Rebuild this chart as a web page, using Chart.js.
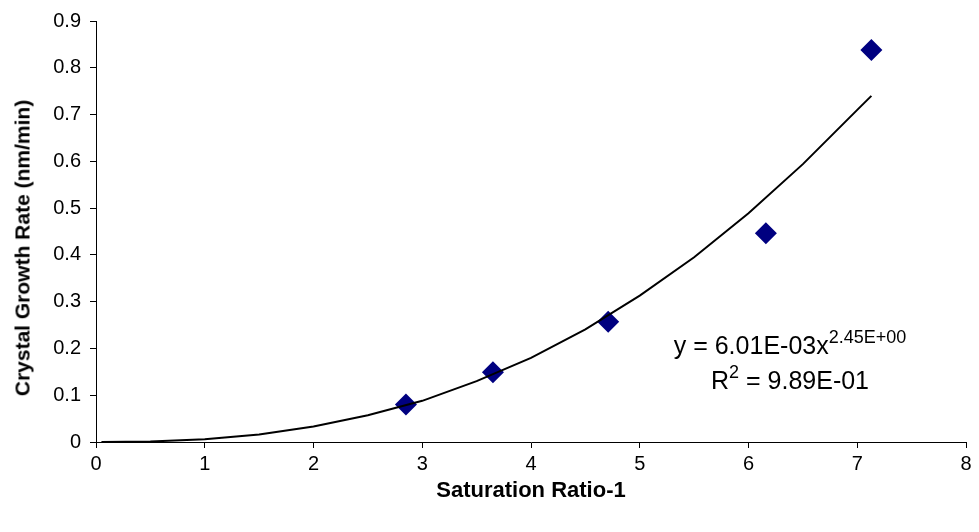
<!DOCTYPE html>
<html>
<head>
<meta charset="utf-8">
<script src="https://cdn.jsdelivr.net/npm/chart.js@4/dist/chart.umd.min.js"></script>
<style>
  html, body { margin: 0; padding: 0; background: #fff; }
  #wrap { position: relative; width: 979px; height: 532px; }
  canvas { position: absolute; left: 0; top: 0; }
  .eq { position: absolute; font-family: "Liberation Sans", Arial, sans-serif; font-size: 25px; color: #000; white-space: nowrap; transform: translateX(-50%); line-height: 1; }
  .eq sup { font-size: 18px; vertical-align: 0; position: relative; top: -11px; }
  #ytitle { position: absolute; font-family: "Liberation Sans", Arial, sans-serif; font-size: 21px; font-weight: bold; color: #000; white-space: nowrap; line-height: 1;
            left: 22px; top: 248px; transform: translate(-50%, -50%) rotate(-90deg); }
</style>
</head>
<body>
<div id="wrap">
  <canvas id="c" width="979" height="532"></canvas>
  <div class="eq" id="eq1" style="left:790px; top:333px;">y = 6.01E-03x<sup>2.45E+00</sup></div>
  <div class="eq" id="eq2" style="left:790px; top:368px;">R<sup>2</sup> = 9.89E-01</div>
  <div id="ytitle"></div>
</div>
<script>
// Measured data points (Saturation Ratio-1, Crystal Growth Rate nm/min)
const pointX = [2.85, 3.65, 4.71, 6.16, 7.13];
const pointY = [0.080, 0.149, 0.257, 0.446, 0.838];

// Power trendline
const trendX = [0.05, 0.5, 1.0, 1.5, 2.0, 2.5, 3.0, 3.5, 4.0, 4.5, 5.0, 5.5, 6.0, 6.5, 7.0, 7.13];
const trendY = [0.000, 0.001, 0.006, 0.016, 0.033, 0.057, 0.088, 0.130, 0.180, 0.241, 0.313, 0.395, 0.489, 0.594, 0.710, 0.740];

// Tick labels
const xTickLabels = ['0', '1', '2', '3', '4', '5', '6', '7', '8'];
const yTickLabels = ['0', '0.1', '0.2', '0.3', '0.4', '0.5', '0.6', '0.7', '0.8', '0.9'];

const xTitle = 'Saturation Ratio-1';
const yTitle = 'Crystal Growth Rate (nm/min)';
document.getElementById('ytitle').textContent = yTitle;

const FONT = '"Liberation Sans", Arial, sans-serif';

new Chart(document.getElementById('c'), {
  type: 'scatter',
  data: {
    datasets: [
      {
        label: 'Power trendline',
        type: 'line',
        data: trendX.map((x, i) => ({ x: x, y: trendY[i] })),
        borderColor: '#000',
        borderWidth: 2,
        pointRadius: 0,
        tension: 0,
        fill: false,
        order: 0
      },
      {
        label: 'Data',
        data: pointX.map((x, i) => ({ x: x, y: pointY[i] })),
        pointStyle: 'rectRot',
        pointRadius: 11,
        pointHoverRadius: 11,
        backgroundColor: '#000080',
        borderColor: '#000080',
        borderWidth: 0,
        order: 1
      }
    ]
  },
  options: {
    responsive: false,
    animation: false,
    devicePixelRatio: 1,
    layout: { padding: { top: 18, right: 13, left: 0, bottom: 0 } },
    plugins: { legend: { display: false }, tooltip: { enabled: false } },
    scales: {
      x: {
        type: 'linear',
        min: 0, max: 8,
        afterFit: s => { s.height = 90; },
        afterBuildTicks: s => { s.ticks = xTickLabels.map(v => ({ value: Number(v) })); },
        ticks: {
          color: '#000',
          font: { family: FONT, size: 20 },
          padding: 4,
          maxRotation: 0,
          autoSkip: false,
          callback: (v, i) => xTickLabels[i]
        },
        grid: { display: true, drawOnChartArea: false, drawTicks: true, tickLength: 6, color: '#000' },
        border: { display: true, color: '#000', width: 1 },
        title: {
          display: true, text: xTitle, color: '#000',
          font: { family: FONT, size: 22, weight: 'bold' },
          padding: { top: 0, bottom: 28 }
        }
      },
      y: {
        type: 'linear',
        min: 0, max: 0.9,
        afterFit: s => { s.width = 96; },
        afterBuildTicks: s => { s.ticks = yTickLabels.map(v => ({ value: Number(v) })); },
        ticks: {
          color: '#000',
          font: { family: FONT, size: 20 },
          padding: 9,
          autoSkip: false,
          callback: (v, i) => yTickLabels[i]
        },
        grid: { display: true, drawOnChartArea: false, drawTicks: true, tickLength: 6, color: '#000' },
        border: { display: true, color: '#000', width: 1 },
        title: { display: false }
      }
    }
  }
});
</script>
</body>
</html>
